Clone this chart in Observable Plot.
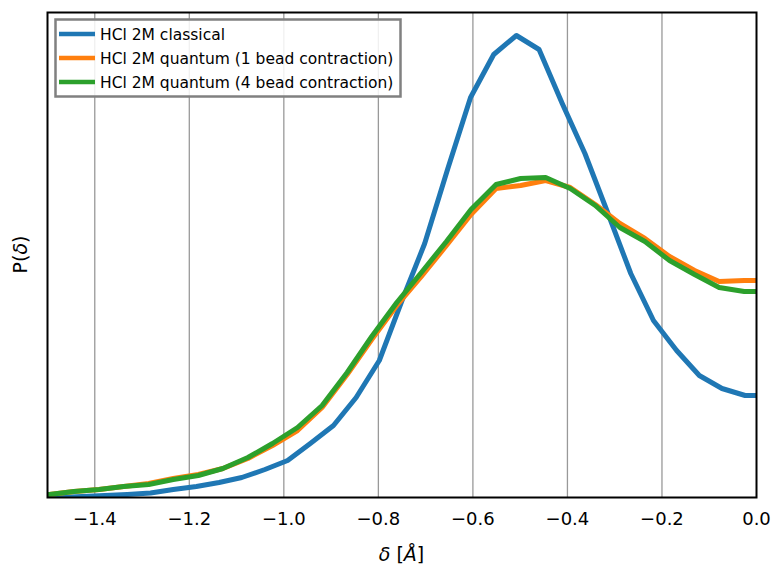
<!DOCTYPE html>
<html>
<head>
<meta charset="utf-8">
<script src="https://cdn.jsdelivr.net/npm/d3@7"></script>
<script src="https://cdn.jsdelivr.net/npm/@observablehq/plot@0.6"></script>
<style>
  html, body { margin: 0; padding: 0; background: white; }
  #chart { width: 777px; height: 570px; }
</style>
</head>
<body>
<div id="chart"></div>
<script>
// ---- data ----
const seriesNames = ["HCl 2M classical", "HCl 2M quantum (1 bead contraction)", "HCl 2M quantum (4 bead contraction)"];
const seriesColors = ["#1f77b4", "#ff7f0e", "#2ca02c"];
const xTicks = [-1.4, -1.2, -1.0, -0.8, -0.6, -0.4, -0.2, 0.0];

const xClassical = [-1.524, -1.476, -1.427, -1.379, -1.331, -1.282, -1.234, -1.185, -1.137, -1.089, -1.040,
  -0.992, -0.944, -0.895, -0.847, -0.798, -0.750, -0.702, -0.653, -0.605, -0.556, -0.508, -0.460, -0.411,
  -0.363, -0.315, -0.266, -0.218, -0.169, -0.121, -0.073, -0.024, 0.024];
const pClassical = [0.00, 0.00, 0.01, 0.02, 0.03, 0.045, 0.08, 0.11, 0.15, 0.20, 0.28,
  0.37, 0.54, 0.72, 1.00, 1.37, 1.97, 2.54, 3.29, 4.00, 4.43, 4.62, 4.48, 3.94,
  3.44, 2.85, 2.24, 1.77, 1.47, 1.22, 1.09, 1.02, 1.02];

const xQuantum = [-1.549, -1.496, -1.444, -1.391, -1.339, -1.286, -1.234, -1.181, -1.129, -1.076, -1.024,
  -0.971, -0.919, -0.866, -0.814, -0.761, -0.709, -0.656, -0.604, -0.551, -0.499, -0.446, -0.394,
  -0.341, -0.289, -0.236, -0.184, -0.131, -0.079, -0.026, 0.026];
const pQuantum1 = [0.03, 0.03, 0.06, 0.08, 0.11, 0.14, 0.19, 0.23, 0.29, 0.39, 0.52,
  0.67, 0.90, 1.23, 1.58, 1.92, 2.21, 2.52, 2.83, 3.09, 3.12, 3.17, 3.10,
  2.93, 2.74, 2.59, 2.41, 2.27, 2.16, 2.17, 2.17];
const pQuantum4 = [0.03, 0.03, 0.06, 0.08, 0.11, 0.13, 0.18, 0.22, 0.29, 0.40, 0.54,
  0.70, 0.92, 1.25, 1.61, 1.95, 2.25, 2.56, 2.88, 3.13, 3.19, 3.20, 3.09,
  2.92, 2.70, 2.56, 2.37, 2.23, 2.10, 2.06, 2.06];

// ---- build tables ----
const classical = xClassical.map((x, i) => ({x, p: pClassical[i]}));
const quantum1 = xQuantum.map((x, i) => ({x, p: pQuantum1[i]}));
const quantum4 = xQuantum.map((x, i) => ({x, p: pQuantum4[i]}));

const fmt = d3.format(".1f");

const chart = Plot.plot({
  width: 777,
  height: 570,
  marginLeft: 47,
  marginRight: 21,
  marginTop: 12,
  marginBottom: 73,
  style: {fontFamily: "DejaVu Sans, sans-serif", fontSize: "18px", background: "white", color: "black"},
  x: {domain: [-1.5, 0], ticks: xTicks, tickFormat: d => fmt(d), tickSize: 0, tickPadding: 15, label: null},
  y: {domain: [0, 4.85], axis: null},
  marks: [
    Plot.ruleX(xTicks.filter(t => t > -1.5 && t < 0), {stroke: "#999999", strokeWidth: 1.3}),
    Plot.line(classical, {x: "x", y: "p", stroke: seriesColors[0], strokeWidth: 5, clip: true}),
    Plot.line(quantum1, {x: "x", y: "p", stroke: seriesColors[1], strokeWidth: 5, clip: true}),
    Plot.line(quantum4, {x: "x", y: "p", stroke: seriesColors[2], strokeWidth: 5, clip: true}),
    Plot.frame({stroke: "black", strokeWidth: 2})
  ]
});

document.getElementById("chart").appendChild(chart);

const svg = d3.select(chart);

// x label
const xl = svg.append("text")
  .attr("x", 401.5).attr("y", 561)
  .attr("text-anchor", "middle")
  .attr("font-size", 19)
  .attr("font-family", "DejaVu Sans, sans-serif");
xl.append("tspan").attr("font-style", "italic").text("δ");
xl.append("tspan").text(" [");
xl.append("tspan").attr("font-style", "italic").text("Å");
xl.append("tspan").text("]");

// y label
const yl = svg.append("text")
  .attr("transform", "translate(27,254.5) rotate(-90)")
  .attr("text-anchor", "middle")
  .attr("font-size", 19)
  .attr("font-family", "DejaVu Sans, sans-serif");
yl.append("tspan").text("P(");
yl.append("tspan").attr("font-style", "italic").text("δ");
yl.append("tspan").text(")");

// legend
const lg = svg.append("g").attr("text-anchor", "start");
lg.append("rect")
  .attr("x", 55.5).attr("y", 19.5).attr("width", 345).attr("height", 77)
  .attr("fill", "white").attr("fill-opacity", 0.85)
  .attr("stroke", "#808080").attr("stroke-width", 2.5);
seriesNames.forEach((name, i) => {
  const y = 34 + i * 24;
  lg.append("line").attr("x1", 59).attr("x2", 95).attr("y1", y).attr("y2", y)
    .attr("stroke", seriesColors[i]).attr("stroke-width", 4.6);
  lg.append("text").attr("x", 100).attr("y", y + 5.5)
    .attr("text-anchor", "start")
    .attr("font-size", 15.5).attr("font-family", "DejaVu Sans, sans-serif")
    .attr("fill", "black").text(name);
});
</script>
</body>
</html>
